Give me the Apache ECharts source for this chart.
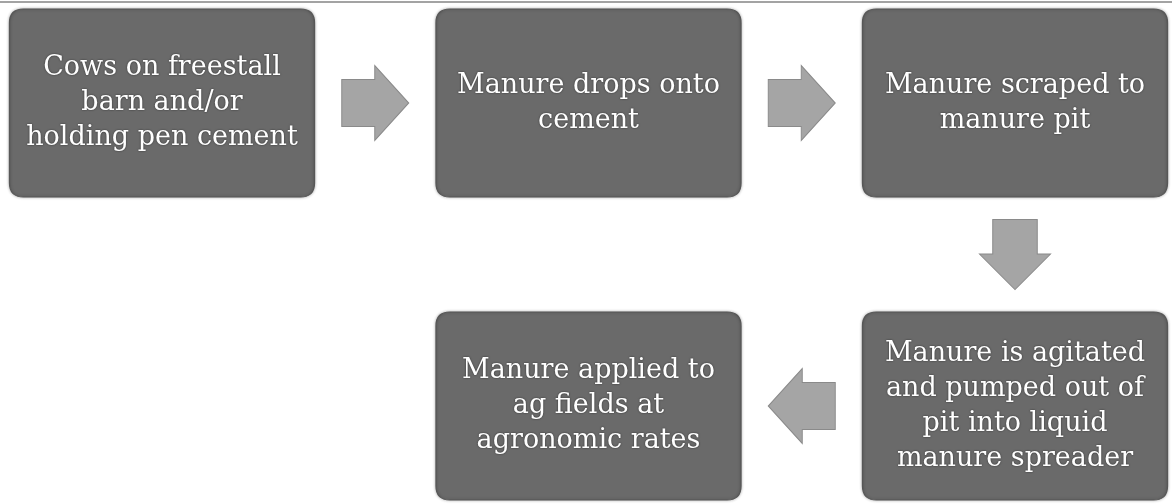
<!DOCTYPE html>
<html>
<head>
<meta charset="utf-8">
<script src="https://cdn.jsdelivr.net/npm/echarts@6/dist/echarts.min.js"></script>
<style>
  html, body { margin: 0; padding: 0; background: #fff; }
  #chart { width: 1172px; height: 504px; }
</style>
</head>
<body>
<div id="chart"></div>
<script>
// process steps, laid out on a 3 column x 2 row grid
const stepText = [
  'Cows on freestall\nbarn and/or\nholding pen cement',
  'Manure drops onto\ncement',
  'Manure scraped to\nmanure pit',
  'Manure is agitated\nand pumped out of\npit into liquid\nmanure spreader',
  'Manure applied to\nag fields at\nagronomic rates'
];
const stepCol = [0, 1, 2, 2, 1];
const stepRow = [0, 0, 0, 1, 1];

// arrows sit half way between the steps they join
const arrowCol = [0.5, 1.5, 2, 1.5];
const arrowRow = [0, 0, 0.5, 1];
const arrowTurn = [0, 0, -90, 180];

const boxPath = 'path://M14 0H291Q305 0 305 14V174Q305 188 291 188H14Q0 188 0 174V14Q0 0 14 0Z';
const arrowPath = 'path://M0 14L33 14L33 0L67 37.5L33 75L33 61L0 61Z';

const chart = echarts.init(document.getElementById('chart'));

chart.setOption({
  animation: false,
  backgroundColor: '#ffffff',
  grid: { left: 162, right: 157, top: 103, bottom: 98 },
  // thin rule along the top edge
  graphic: [{
    type: 'line',
    shape: { x1: 0, y1: 2, x2: 1172, y2: 2 },
    style: { stroke: '#a3a3a3', lineWidth: 2 }
  }],
  xAxis: { type: 'value', min: 0, max: 2, show: false },
  yAxis: { type: 'value', min: 0, max: 1, inverse: true, show: false },
  series: [
    {
      type: 'scatter',
      symbol: boxPath,
      symbolSize: [305, 188],
      itemStyle: {
        color: '#6a6a6a',
        opacity: 1,
        borderColor: '#575757',
        borderWidth: 1,
        shadowColor: 'rgba(0,0,0,0.3)',
        shadowBlur: 3
      },
      label: {
        show: true,
        position: 'inside',
        formatter: p => p.name,
        color: '#ffffff',
        fontFamily: 'DejaVu Serif',
        fontSize: 27,
        lineHeight: 35,
        align: 'center',
        textShadowColor: 'rgba(0,0,0,0.6)',
        textShadowBlur: 2
      },
      data: stepText.map((t, i) => ({ name: t, value: [stepCol[i], stepRow[i]] }))
    },
    {
      type: 'scatter',
      symbol: arrowPath,
      symbolSize: [67, 75],
      itemStyle: {
        color: '#a5a5a5',
        opacity: 1,
        borderColor: '#8a8a8a',
        borderWidth: 1
      },
      data: arrowCol.map((c, i) => ({
        value: [c, arrowRow[i]],
        symbolRotate: arrowTurn[i],
        symbolSize: arrowTurn[i] === -90 ? [70, 71] : [67, 75]
      }))
    }
  ]
});
</script>
</body>
</html>
